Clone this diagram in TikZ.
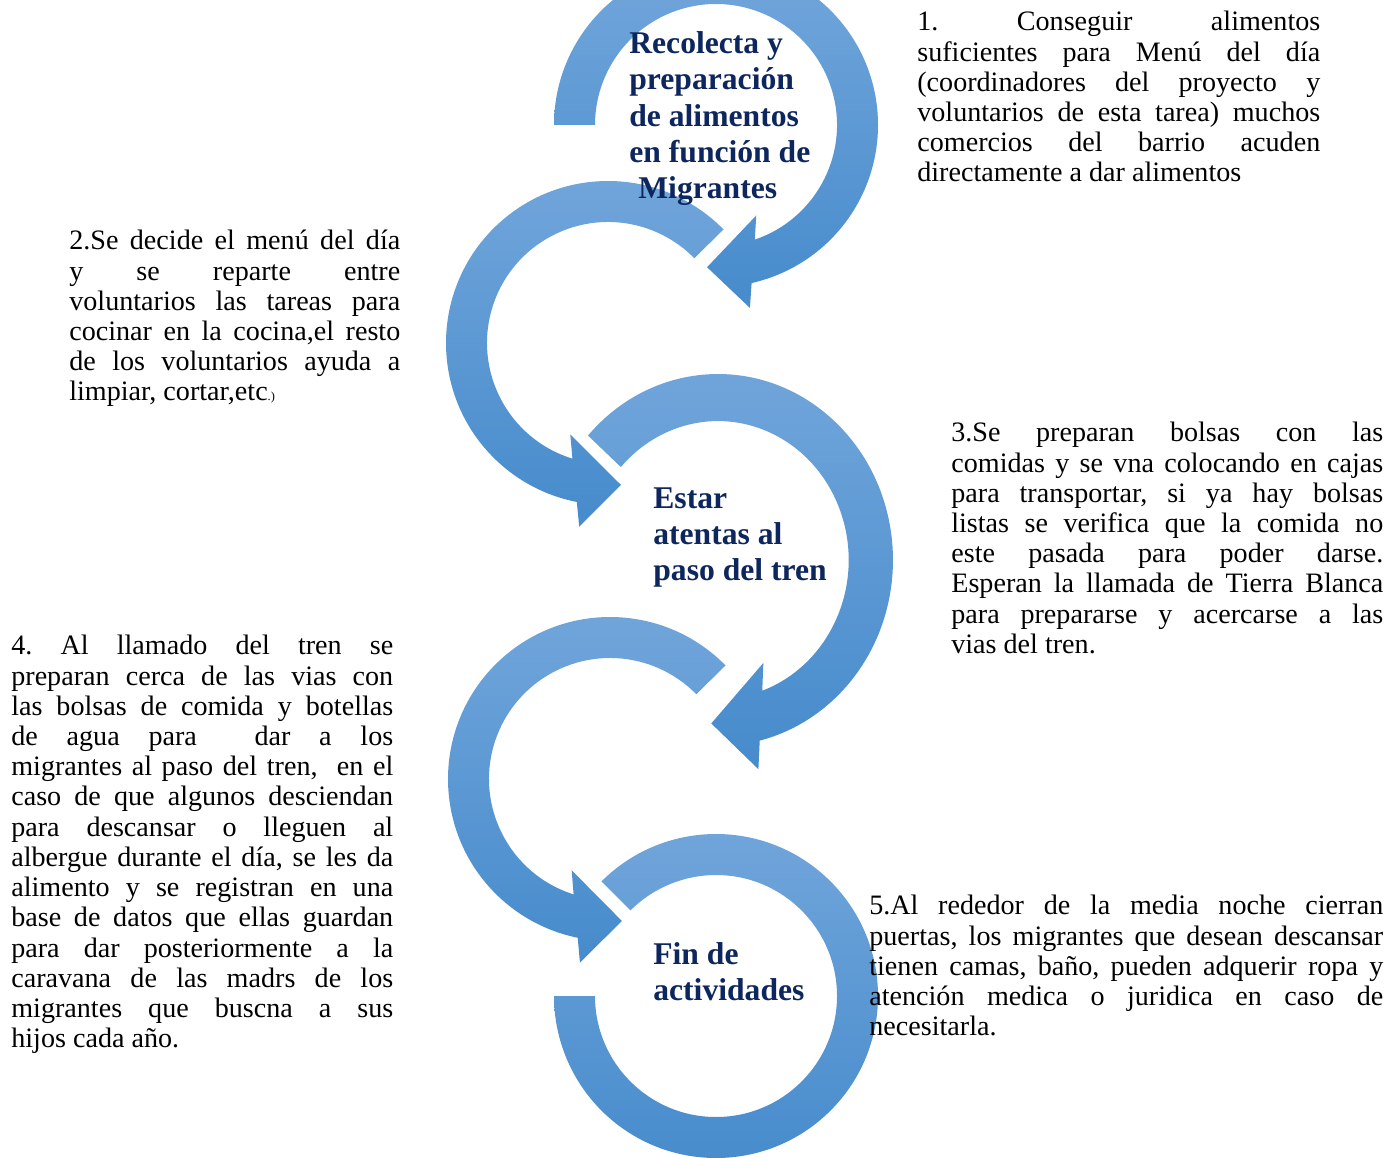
\documentclass[tikz,border=0pt]{standalone}
\usepackage{fontspec}
\setmainfont{Liberation Serif}
\usepackage{tikz}
\frenchspacing

\definecolor{flechaclara}{RGB}{114,166,219}
\definecolor{flechaoscura}{RGB}{70,139,204}
\definecolor{azultitulo}{RGB}{13,38,94}

\newcommand{\flechacirc}[6]{%
\begin{scope}[shift={#1}, xscale=#2, yscale=#3]
\shade [flecha] (#4:121) -- (#4:162) arc [start angle=#4, end angle={#5+(#6)*6}, radius=162]
  -- ({#5+(#6)*8.2}:186) -- ({#5+(#6)*22.3}:142.5) -- ({#5-(#6)*5.3}:99) -- (#5:121)
  arc [start angle=#5, end angle=#4, radius=121] -- cycle;
\end{scope}}

\begin{document}
\begin{tikzpicture}[x=0.02cm, y=-0.02cm,
  flecha/.style={top color=flechaclara, bottom color=flechaoscura, draw=none},
  titulo/.style={anchor=north west, inner sep=0pt, align=left, text=azultitulo,
    font=\fontsize{18}{20.7}\selectfont\bfseries},
  texto/.style={anchor=north west, inner sep=0pt, align=justify,
    font=\fontsize{16}{17.2}\selectfont}]
\fill [white] (0,0) rectangle (1399,1158);
\clip (0,0) rectangle (1399,1158);

\flechacirc{(716,125)}{1}{1}{180}{431.3}{1}
\flechacirc{(608,343)}{1}{1}{-44.5}{-252.9}{-1}
\flechacirc{(718,560)}{1.08}{1.148}{222}{430.2}{1}
\flechacirc{(610,779)}{1}{1}{-44.5}{-252.5}{-1}
\begin{scope}[shift={(716,996)}]
\shade [flecha] (225:121) -- (225:162) arc [start angle=225, end angle=540, radius=162]
  -- (540:121) arc [start angle=540, end angle=225, radius=121] -- cycle;
\end{scope}

\node [titulo] (etapa1) at (629,31) {Recolecta y\\preparación\\de alimentos\\en función de\\\hspace*{0.18cm}Migrantes};
\node [titulo] (etapa2) at (653,487) {Estar\\atentas al\\paso del tren};
\node [titulo] (etapa3) at (653,942) {Fin de\\actividades};

\node [texto, text width=8.06cm] (paso1) at (917,11) {1. Conseguir alimentos\linebreak
suficientes para Menú del día\linebreak
(coordinadores del proyecto y\linebreak
voluntarios de esta tarea) muchos\linebreak
comercios del barrio acuden\linebreak
directamente a dar alimentos};
\node [texto, text width=6.62cm] (paso2) at (69,230) {2.Se decide el menú del día\linebreak
y se reparte entre\linebreak
voluntarios las tareas para\linebreak
cocinar en la cocina,el resto\linebreak
de los voluntarios ayuda a\linebreak
limpiar, cortar,etc{\fontsize{7}{8}\selectfont.)}};
\node [texto, text width=8.64cm] (paso3) at (951,422) {3.Se preparan bolsas con las\linebreak
comidas y se vna colocando en cajas\linebreak
para transportar, si ya hay bolsas\linebreak
listas se verifica que la comida no\linebreak
este pasada para poder darse.\linebreak
Esperan la llamada de Tierra Blanca\linebreak
para prepararse y acercarse a las\linebreak
vias del tren.};
\node [texto, text width=7.64cm] (paso4) at (11,635) {4. Al llamado del tren se\linebreak
preparan cerca de las vias con\linebreak
las bolsas de comida y botellas\linebreak
de agua para \ dar a los\linebreak
migrantes al paso del tren, \ en el\linebreak
caso de que algunos desciendan\linebreak
para descansar o lleguen al\linebreak
albergue durante el día, se les da\linebreak
alimento y se registran en una\linebreak
base de datos que ellas guardan\linebreak
para dar posteriormente a la\linebreak
caravana de las madrs de los\linebreak
migrantes que buscna a sus\linebreak
hijos cada año.};
\node [texto, text width=10.28cm] (paso5) at (869,895) {5.Al rededor de la media noche cierran\linebreak
puertas, los migrantes que desean descansar\linebreak
tienen camas, baño, pueden adquerir ropa y\linebreak
atención medica o juridica en caso de\linebreak
necesitarla.};
\end{tikzpicture}
\end{document}
